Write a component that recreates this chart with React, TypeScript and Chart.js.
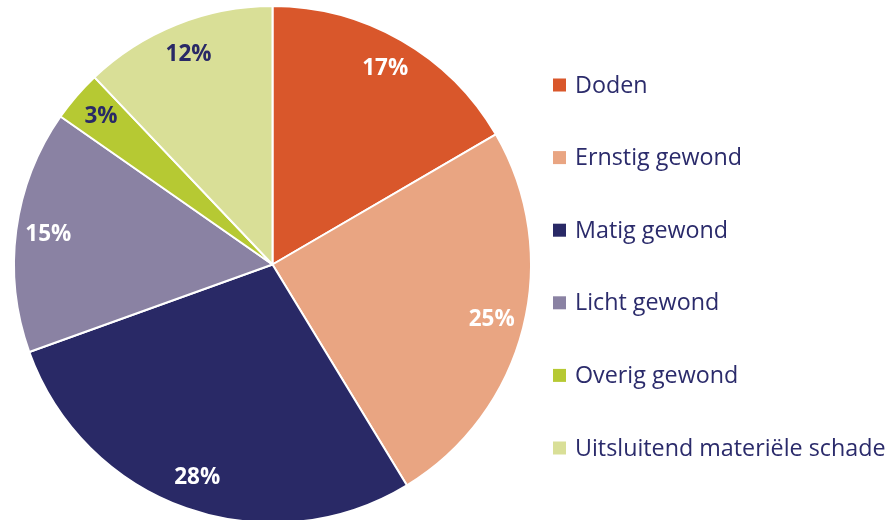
import React, { useEffect, useRef } from "react";
import { Chart, registerables } from "chart.js";

Chart.register(...registerables);

const categories = [
  "Doden",
  "Ernstig gewond",
  "Matig gewond",
  "Licht gewond",
  "Overig gewond",
  "Uitsluitend materiële schade",
];
const values = [16.6, 24.7, 28.2, 15.2, 3.2, 12.1];
const colors = ["#d9572b", "#e9a582", "#292966", "#8a82a3", "#b6c933", "#d9df97"];
const labelColors = ["#ffffff", "#ffffff", "#ffffff", "#ffffff", "#292966", "#292966"];

const NAVY = "#2b2b6b";
const FONT = "'Open Sans', 'Noto Sans', sans-serif";

const sliceLabels = {
  id: "sliceLabels",
  afterDatasetsDraw(chart: any) {
    const ctx = chart.ctx;
    const meta = chart.getDatasetMeta(0);
    const total = values.reduce((a, b) => a + b, 0);
    ctx.save();
    ctx.font = "bold 22.5px " + FONT;
    ctx.textAlign = "center";
    ctx.textBaseline = "middle";
    meta.data.forEach((arc: any, i: number) => {
      const { x, y, startAngle, endAngle, outerRadius } = arc.getProps(
        ["x", "y", "startAngle", "endAngle", "outerRadius"],
        true
      );
      const mid = (startAngle + endAngle) / 2;
      const r = outerRadius * 0.875;
      ctx.fillStyle = labelColors[i];
      ctx.fillText(
        Math.round((values[i] / total) * 100) + "%",
        x + Math.cos(mid) * r,
        y + Math.sin(mid) * r
      );
    });
    ctx.restore();
  },
};

const customLegend = {
  id: "customLegend",
  afterDraw(chart: any) {
    const ctx = chart.ctx;
    ctx.save();
    ctx.font = "23.3px " + FONT;
    ctx.textBaseline = "middle";
    ctx.textAlign = "left";
    const startY = 85;
    const step = 72.6;
    categories.forEach((c, i) => {
      const cy = startY + i * step;
      ctx.fillStyle = colors[i];
      ctx.fillRect(553, cy - 6.5, 13, 13);
      ctx.fillStyle = NAVY;
      ctx.fillText(c, 575, cy + 1);
    });
    ctx.restore();
  },
};

export default function App() {
  const ref = useRef<HTMLCanvasElement>(null);
  useEffect(() => {
    if (!ref.current) return;
    const chart = new Chart(ref.current, {
      type: "pie",
      data: {
        labels: categories,
        datasets: [
          {
            data: values,
            backgroundColor: colors,
            borderColor: "#ffffff",
            borderWidth: 2,
          },
        ],
      },
      options: {
        animation: false,
        responsive: false,
        maintainAspectRatio: false,
        layout: { padding: { left: 13, right: 358, top: 5, bottom: 6 } },
        plugins: {
          legend: { display: false },
          tooltip: { enabled: false },
        },
      },
      plugins: [sliceLabels, customLegend],
    });
    return () => chart.destroy();
  }, []);
  return (
    <div
      style={{
        position: "fixed",
        left: 0,
        top: 0,
        width: 890,
        height: 520,
        overflow: "hidden",
        background: "#ffffff",
      }}
    >
      <canvas ref={ref} width={890} height={530} style={{ display: "block" }} />
    </div>
  );
}
